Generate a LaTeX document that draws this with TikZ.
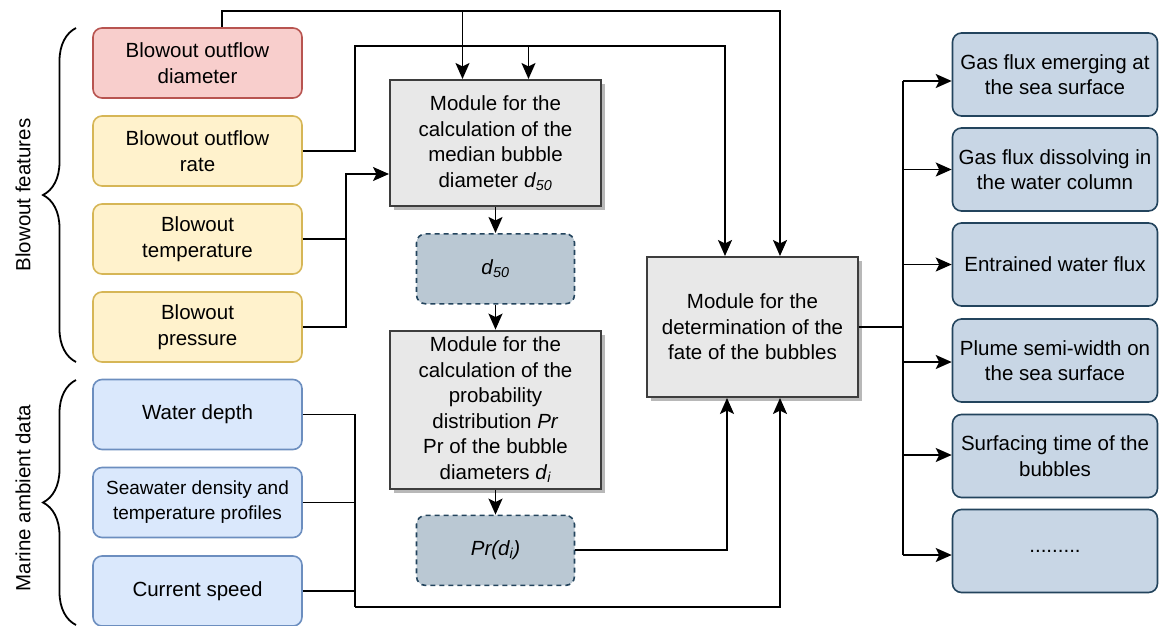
\documentclass[tikz,border=0pt]{standalone}
\usepackage{fontspec}
\setmainfont{Liberation Sans}
\usepackage{tikz}
\usetikzlibrary{positioning, arrows.meta, shadows, decorations.pathreplacing}
\definecolor{Cr}{HTML}{F8CECC}
\definecolor{Crb}{HTML}{B85450}
\definecolor{Cy}{HTML}{FFF2CC}
\definecolor{Cyb}{HTML}{D6B656}
\definecolor{Cb}{HTML}{DAE8FC}
\definecolor{Cbb}{HTML}{6C8EBF}
\definecolor{Cm}{HTML}{E8E8E8}
\definecolor{Cmb}{HTML}{3D3D3D}
\definecolor{Cd}{HTML}{BAC8D3}
\definecolor{Co}{HTML}{C8D6E5}
\definecolor{Cdb}{HTML}{23445D}
\tikzset{
  txt/.style={font=\fontsize{20.5}{25.5}\selectfont},
  IN/.style n args={2}{
    draw=#2, fill=#1, rounded corners=9pt, line width=1.6pt,
    minimum width=209pt, minimum height=70pt,
    align=center, inner sep=0pt, txt
  },
  MOD/.style={
    draw=Cmb, fill=Cm, line width=2pt,
    drop shadow={shadow xshift=4pt, shadow yshift=-4pt, fill=black!28, opacity=1},
    minimum width=211pt, align=center, inner sep=0pt, txt
  },
  VAR/.style={
    draw=Cdb, fill=Cd, rounded corners=9pt, line width=1.6pt,
    dash pattern=on 5pt off 4pt,
    minimum width=158pt, minimum height=70pt,
    align=center, inner sep=0pt, txt
  },
  OUT/.style={
    draw=Cdb, fill=Co, rounded corners=9pt, line width=1.6pt,
    minimum width=205pt, minimum height=83pt,
    align=center, inner sep=0pt, txt
  },
  grp/.style={decorate, decoration={brace, amplitude=33pt}, line width=1.8pt},
  ttl/.style={rotate=90, txt},
  a/.style={-{Stealth[length=16pt,width=14pt,inset=3.5pt]},
    line width=1.9pt, color=black},
  l/.style={line width=1.9pt, color=black}
}

\begin{document}
\begin{tikzpicture}[x=1pt, y=-1pt]
\useasboundingbox (0,0) rectangle (1159,626);

% ---------------------------------------------------------------
%  Blowout features
% ---------------------------------------------------------------
\node[IN={Cr}{Crb}] (dia)  at (197.5, 63)  {Blowout outflow\\diameter};
\node[IN={Cy}{Cyb}] (rate) at (197.5,151)  {Blowout outflow\\rate};
\node[IN={Cy}{Cyb}] (temp) at (197.5,239)  {Blowout\\temperature};
\node[IN={Cy}{Cyb}] (pres) at (197.5,327)  {Blowout\\pressure};

% ---------------------------------------------------------------
%  Marine ambient data
% ---------------------------------------------------------------
\node[IN={Cb}{Cbb}] (wd)  at (197.5,414.5) {Water depth};
\node[IN={Cb}{Cbb}, font=\fontsize{19}{25}\selectfont] (sea) at (197.5,502.5)
  {Seawater density and\\temperature profiles};
\node[IN={Cb}{Cbb}] (cur) at (197.5,591)   {Current speed};

% braces + titles
\draw[grp] (76,362) -- (76,28);
\draw[grp] (76,625) -- (76,380);
\node[ttl] (bf) at (23,195) {Blowout features};
\node[ttl] (ma) at (23,498) {Marine ambient data};

% ---------------------------------------------------------------
%  Modules
% ---------------------------------------------------------------
\node[MOD, minimum height=126pt] (med) at (495.5,143)
  {Module for the\\calculation of the\\median bubble\\diameter \textit{d}\textsubscript{\textit{50}}};
\node[VAR, below=26pt of med] (d50) {\textit{d}\textsubscript{\textit{50}}};
\node[MOD, minimum height=158pt, below=25pt of d50] (dist)
  {Module for the\\calculation of the\\probability\\distribution \textit{Pr}\\Pr of the bubble\\diameters \textit{d}\textsubscript{\textit{i}}};
\node[VAR, below=25pt of dist] (pr) {\textit{Pr(d\textsubscript{i})}};

\node[MOD, minimum height=140pt] (fate) at (752.5,327)
  {Module for the\\determination of the\\fate of the bubbles};

% ---------------------------------------------------------------
%  Outputs
% ---------------------------------------------------------------
\node[OUT] (o1) at (1055, 74.5) {Gas flux emerging at\\the sea surface};
\node[OUT] (o2) at (1055,169.5) {Gas flux dissolving in\\the water column};
\node[OUT] (o3) at (1055,264.5) {Entrained water flux};
\node[OUT] (o4) at (1055,360.5) {Plume semi-width on\\the sea surface};
\node[OUT] (o5) at (1055,456)   {Surfacing time of the\\bubbles};
\node[OUT] (o6) at (1055,551)   {.........};

% ---------------------------------------------------------------
%  ARROWS
% ---------------------------------------------------------------
\coordinate (j1) at (222,11);
\coordinate (j2) at (355,46);
\coordinate (j3) at (346,174);
\coordinate (j4) at (355,607);
\coordinate (j5) at (903,327);

% diameter -> both modules
\draw[a] ([xshift=24.5pt]dia.north) |- ([xshift=27.5pt]fate.north |- j1)
  -- ([xshift=27.5pt]fate.north);
\draw[a] ([xshift=-33pt]med.north |- j1) -- ([xshift=-33pt]med.north);

% outflow rate -> both modules
\draw[a] (rate.east) -| (j2) -| ([xshift=-27.5pt]fate.north);
\draw[a] ([xshift=33pt]med.north |- j2) -- ([xshift=33pt]med.north);

% temperature + pressure -> median module
\draw[l] (temp.east) -- (temp.east -| j3);
\draw[a] (pres.east) -| (j3) -- (j3 -| med.west);

% marine data -> fate module
\draw[l] (wd.east) -| (j4);
\draw[l] (sea.east) -- (sea.east -| j4);
\draw[l] (cur.east) -- (cur.east -| j4);
\draw[a] (j4) -| ([xshift=27.5pt]fate.south);

% chain in the middle
\draw[a] (med.south)  -- (d50.north);
\draw[a] (d50.south)  -- (dist.north);
\draw[a] (dist.south) -- (pr.north);
\draw[a] (pr.east) -| ([xshift=-25.5pt]fate.south);

% fate -> outputs
\draw[l] (fate.east) -- (j5);
\draw[l] ([yshift=-6.5pt]o1.west -| j5) -- ([yshift=-4pt]o6.west -| j5);
\foreach \o/\dy in {o1/-6.5, o2/0, o3/0, o4/-1.5, o5/1, o6/-4}
  \draw[a] ([yshift=\dy pt]\o.west -| j5) -- ([yshift=\dy pt]\o.west);

\end{tikzpicture}
\end{document}
